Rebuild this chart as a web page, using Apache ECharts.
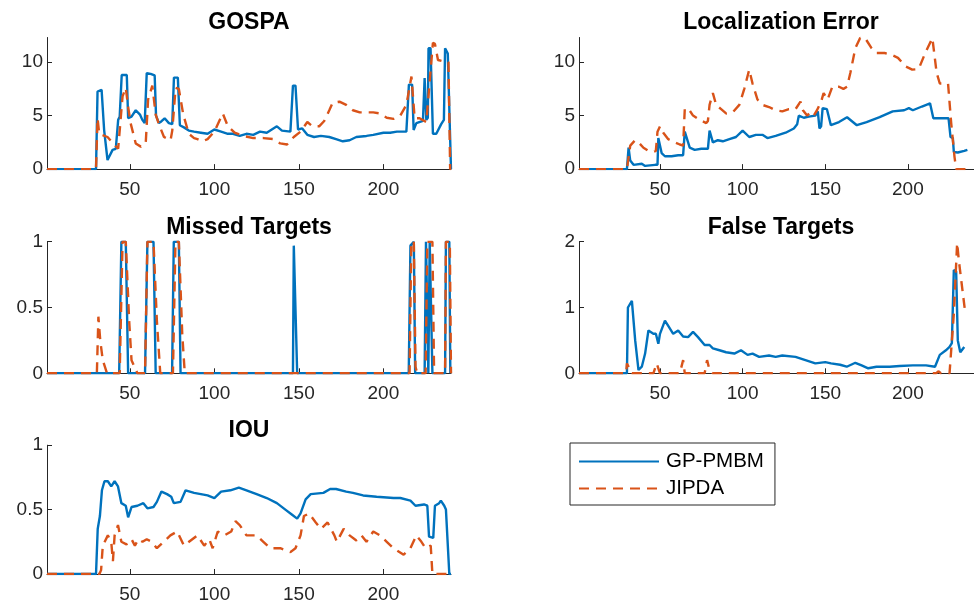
<!DOCTYPE html>
<html>
<head>
<meta charset="utf-8">
<script src="https://cdn.jsdelivr.net/npm/echarts@6/dist/echarts.min.js"></script>
<style>html,body{margin:0;padding:0;background:#fff;}#c{width:974px;height:604px;}</style>
</head>
<body>
<div id="c"></div>
<script>
// ---- tick labels ----
const xTicks = [50, 100, 150, 200];
const yTicksGospa = [0, 5, 10];
const yTicksLoc = [0, 5, 10];
const yTicksMissed = [0, 0.5, 1];
const yTicksFalse = [0, 1, 2];
const yTicksIou = [0, 0.5, 1];
const titles = ['GOSPA', 'Localization Error', 'Missed Targets', 'False Targets', 'IOU'];
const seriesNames = ['GP-PMBM', 'JIPDA'];

// ---- GOSPA ----
const gospaPmbmX = [1,30,30.9,33.3,34.8,36.8,37.8,39.8,41.7,43.1,44,45.2,48.2,49,51,53.5,56,57.4,58.8,60,62.3,64.7,65.5,67.2,68.6,70.6,73.1,75.1,76.1,78.4,79.6,82,84.9,88,92,96,100,104,108,111,115,119,123,127,131,134,137,140,145,146.5,148,149.5,152,155,159,163,168,172,176,180,184,190,194,200,204,208,213.6,215.1,217,217.9,219.5,223.4,224.4,225.4,226.3,226.7,227.9,229.3,231.3,234.2,235.8,236.5,238.1,239,240];
const gospaPmbmY = [0,0,7.25,7.4,3.65,0.85,0.7,1.8,1.9,4.6,4.9,8.8,8.8,4.75,4.9,5.5,5.1,4.6,4.3,8.97,8.9,8.75,5.0,4.3,4.45,4.75,4.3,4.2,8.55,8.55,4.1,3.9,3.6,3.5,3.4,3.3,3.7,3.5,3.3,3.3,3.1,3.3,3.2,3.5,3.4,3.7,4.0,3.6,3.5,7.8,7.8,3.7,3.8,3.2,3.0,3.1,3.0,2.8,2.6,2.7,3.0,3.1,3.2,3.4,3.4,3.5,3.5,7.9,7.9,3.65,4.3,4.5,8.5,4.6,4.8,11.3,11.3,3.3,3.3,4.2,4.6,11.3,10.8,10.8,0];
const gospaJipdaX = [1,30,30.9,31.9,36.8,40.7,43.1,45.7,47.6,49,50.6,53.5,56.5,59.4,60.8,63.3,65.3,67.2,70.2,74.1,75.1,77.1,79,81.6,84.9,88,90,93,96,100,105,108,112,117,123,129,135,139,143,147,151,155,158,162,165,168,170,174,178,182,186,194,198,202,206,210,213.6,216.6,218.5,221.4,225.4,229.3,230.5,232.3,237.2,238.5,239.5,240];
const gospaJipdaY = [0,0,4.75,3.3,3.0,2.3,1.9,6.8,7.6,5.8,4.2,2.4,2.1,2.4,6.5,7.8,5.1,4.2,3.0,2.7,3.6,7.6,7.5,5.1,3.3,2.9,2.8,2.6,2.8,3.5,5.2,4.0,3.4,3.1,2.9,2.9,2.8,2.4,2.3,3.0,3.5,4.4,4.0,4.0,4.5,5.5,6.2,6.3,6.0,5.5,5.3,5.3,5.2,4.8,4.7,5.0,6.0,8.65,4.75,4.75,4.4,11.8,11.7,10.2,10.0,10.0,0,0];

// ---- Localization Error ----
const locPmbmX = [1,30,31,32,34,39,41,47,48.5,49,51,53,57,61,64,65,68,71,75,79,80,82,85,88,92,96,100,104,108,112,115,120,126,131,133,134,137,140,144,145.5,146.5,147.5,148.4,151,153.4,158.3,163.2,169.1,175,182.9,190.8,197.7,200.6,203,208.5,213.4,215.4,220.3,224.6,225.8,227.2,227.8,230.2,234.1,236];
const locPmbmY = [0,0,2.0,0.8,0.4,0.5,0.3,0.4,0.4,2.9,1.5,1.2,1.2,1.3,1.3,3.5,2.0,1.8,1.9,1.9,3.6,2.5,2.7,2.6,2.8,3.0,3.6,3.0,3.2,3.2,2.9,3.1,3.4,3.8,4.2,5.0,4.8,4.9,5.0,5.4,3.8,4.0,5.7,5.6,4.1,4.4,4.85,4.1,4.4,4.85,5.4,5.5,5.7,5.5,5.85,6.15,4.75,4.75,4.75,3.0,2.9,1.6,1.55,1.7,1.8];
const locJipdaX = [1,30,32,35,37,40,43,46,47.5,48.5,50,52,55,59,62,64,65,67,70,74,78,79,80,82,84,87,90,94,98,101,104,106,109,112,116,120,124,128,132,135,136.5,139,141,143,145,147.5,149,151.4,154.3,158.3,161,163.2,165.2,168.2,171.1,174.1,178,180.9,185.9,189.8,194,198.6,202.6,206.5,210.5,214.8,217.4,219.3,224.3,226.2,228.2,229.2,236];
const locJipdaY = [0,0,2.2,2.7,2.5,2.0,1.7,1.6,1.7,3.5,4.0,3.4,2.8,2.5,2.3,2.2,5.6,5.7,5.0,4.6,4.3,4.5,6.0,7.1,6.0,5.6,5.2,5.3,6.0,7.5,9.3,8.0,6.5,6.0,5.8,5.5,5.4,5.6,5.6,6.3,5.5,5.0,5.3,5.0,5.5,6.3,7.1,6.5,7.7,7.7,7.5,7.7,9.0,11.3,12.25,12.25,11.3,10.85,10.85,10.7,10.4,9.6,9.3,9.35,10.85,12.25,9.0,8.0,8.0,4.3,1.15,0,0];

// ---- Missed Targets ----
const missPmbmX = [1,43.7,45,47.6,49,59,60.4,64,65.3,75,76,79,80,146.5,147,148,149,153,153.7,154.5,215,216,218,218.8,224.4,225.2,226,226.6,227.4,228.5,229,236.5,237,239,239.6,240];
const missPmbmY = [0,0,1,1,0,0,1,1,0,0,1,1,0,0,0.97,0.97,0,0,0.01,0,0,0.97,1,0,0,1,1,0,1,1,0,0,1,1,0,0];
const missJipdaX = [1,30.5,31.4,32.5,34,36.5,44,45.7,47.6,49.6,51,54.5,59,60.4,64,66,68,75.5,77,79,81,82.5,85,86,87,215.5,216.5,218,219,220,225,226,229,230,236.5,237,239.3,240];
const missJipdaY = [0,0,0.43,0.25,0.1,0,0,1,1,0.4,0.1,0,0,1,1,0.4,0,0,1,1,0.3,0,0,0.01,0,0,1,1,0.05,0,0,1,1,0,0,1,1,0];

// ---- False Targets ----
const falsePmbmX = [1,30,30.6,33,35,37,39,41,43,46,47.5,49,50,53,55,58,61,64,67,70,73,77,80,82,86,90,95,99,103,106,110,116,120,124,132,138,144,150,153.5,159,163,168.2,172,176,181,189,195,203,211,216.4,219.3,223,225.2,226.6,227.8,229.2,230.2,231.7,232.7,234.1];
const falsePmbmY = [0,0,1.0,1.1,0.5,0.05,0.1,0.3,0.65,0.6,0.6,0.45,0.6,0.8,0.72,0.6,0.65,0.56,0.55,0.63,0.55,0.43,0.43,0.38,0.35,0.32,0.3,0.35,0.28,0.3,0.25,0.27,0.25,0.27,0.25,0.2,0.15,0.17,0.15,0.13,0.1,0.16,0.12,0.076,0.1,0.1,0.11,0.12,0.12,0.1,0.28,0.35,0.4,0.46,1.57,1.55,0.5,0.32,0.32,0.4];
const falseJipdaX = [1,29.5,30,32,33,46,48,50,62,64,65,77,78.5,80,82,217,218.4,220,225.2,227.8,229.8,230.9,234.5];
const falseJipdaY = [0,0,0.15,0.05,0,0,0.15,0,0,0.2,0,0,0.2,0.05,0,0,0.03,0,0,0.91,1.98,1.7,0.96];

// ---- IOU ----
const iouPmbmX = [1,30,31,32.3,33.5,35,37,39,41,43,45,47.6,49,51,54.5,58,60.4,64,66,68.7,72,74.5,76,80,83,88,96,100,104,109.5,114.5,119,125,131,137,142,146,149,151,154,157,164.5,168.5,172,178,182,188,196,206,210,216,219,224,226,227,229.5,230.5,233,234,236,237,239,240];
const iouPmbmY = [0,0,0.35,0.45,0.65,0.72,0.72,0.68,0.72,0.68,0.55,0.53,0.44,0.52,0.53,0.55,0.51,0.52,0.56,0.64,0.62,0.6,0.55,0.56,0.65,0.63,0.61,0.59,0.64,0.65,0.67,0.65,0.62,0.59,0.55,0.5,0.46,0.43,0.47,0.58,0.62,0.63,0.66,0.66,0.64,0.63,0.61,0.6,0.59,0.59,0.57,0.53,0.54,0.53,0.29,0.28,0.53,0.55,0.57,0.53,0.5,0,0];
const iouJipdaX = [1,32,33,34,37,39,40,41,43,45,48,51,53,55,57.5,60,63,66,70,74,78,82,86,90,94,97,99,102,106,110,112.5,115,119,125,129,133,139,145,148,151,153,156,160,163,167,171,172.5,176.5,180,184,187,190,194,198,202,206,212,216,219.5,222.5,225,228,229,240];
const iouJipdaY = [0,0,0.03,0.22,0.3,0.25,0.1,0.3,0.38,0.25,0.23,0.27,0.22,0.27,0.25,0.27,0.25,0.2,0.25,0.3,0.33,0.22,0.26,0.3,0.22,0.27,0.2,0.33,0.3,0.33,0.41,0.38,0.3,0.3,0.25,0.2,0.2,0.17,0.2,0.3,0.45,0.47,0.4,0.35,0.4,0.3,0.25,0.35,0.3,0.26,0.3,0.25,0.33,0.3,0.25,0.2,0.15,0.2,0.3,0.25,0.2,0.22,0,0];

const zip = (xs, ys) => xs.map((x, i) => [x, ys[i]]);

const BLUE = '#0072BD', ORANGE = '#D95319', AX = '#262626';
const FONT = '"Liberation Sans", Arial, Helvetica, sans-serif';

const panels = [
  {left: 47, top: 37.5, yMax: 12.3, yTicks: yTicksGospa, pm: zip(gospaPmbmX, gospaPmbmY), jp: zip(gospaJipdaX, gospaJipdaY)},
  {left: 579, top: 37.5, yMax: 12.3, yTicks: yTicksLoc, pm: zip(locPmbmX, locPmbmY), jp: zip(locJipdaX, locJipdaY)},
  {left: 47, top: 241.7, yMax: 1, yTicks: yTicksMissed, pm: zip(missPmbmX, missPmbmY), jp: zip(missJipdaX, missJipdaY)},
  {left: 579, top: 241.7, yMax: 2, yTicks: yTicksFalse, pm: zip(falsePmbmX, falsePmbmY), jp: zip(falseJipdaX, falseJipdaY)},
  {left: 47, top: 445.2, yMax: 1, yTicks: yTicksIou, pm: zip(iouPmbmX, iouPmbmY), jp: zip(iouJipdaX, iouJipdaY)}
];
const W = 404, H = 131.6;

const grid = [], xAxis = [], yAxis = [], series = [], title = [];
panels.forEach((p, i) => {
  grid.push({left: p.left, top: p.top, width: W, height: H, containLabel: false});
  title.push({
    text: titles[i], left: p.left + W / 2, top: p.top - 26, textAlign: 'center', padding: 0,
    textStyle: {fontFamily: FONT, fontWeight: 'bold', fontSize: 23, color: '#000'}
  });
  xAxis.push({
    type: 'value', gridIndex: i, min: 1, max: 240,
    axisLine: {show: true, lineStyle: {color: AX, width: 1}},
    axisTick: {show: true, inside: true, length: 5, customValues: xTicks, lineStyle: {color: AX}},
    axisLabel: {show: true, customValues: xTicks, margin: 11, fontFamily: FONT, fontSize: 19, color: AX},
    splitLine: {show: false}
  });
  yAxis.push({
    type: 'value', gridIndex: i, min: 0, max: p.yMax,
    axisLine: {show: true, onZero: false, lineStyle: {color: AX, width: 1}},
    axisTick: {show: true, inside: true, length: 5, customValues: p.yTicks, lineStyle: {color: AX}},
    axisLabel: {show: true, customValues: p.yTicks, margin: 4, fontFamily: FONT, fontSize: 19, color: AX},
    splitLine: {show: false}
  });
  series.push({
    name: seriesNames[0], type: 'line', xAxisIndex: i, yAxisIndex: i, data: p.pm,
    showSymbol: false, symbol: 'none', animation: false,
    lineStyle: {color: BLUE, width: 2.4}, itemStyle: {color: BLUE}
  });
  series.push({
    name: seriesNames[1], type: 'line', xAxisIndex: i, yAxisIndex: i, data: p.jp,
    showSymbol: false, symbol: 'none', animation: false,
    lineStyle: {color: ORANGE, width: 2.4, type: [10, 7]}, itemStyle: {color: ORANGE}
  });
});

const chart = echarts.init(document.getElementById('c'), null, {renderer: 'canvas'});
chart.setOption({
  animation: false,
  backgroundColor: '#fff',
  title: title,
  grid: grid,
  xAxis: xAxis,
  yAxis: yAxis,
  series: series,
  legend: {
    data: seriesNames, orient: 'vertical', left: 570, top: 443,
    padding: [8, 11, 6, 8], itemGap: 6, itemWidth: 80, itemHeight: 14,
    borderColor: AX, borderWidth: 1, backgroundColor: '#fff', borderRadius: 0,
    itemStyle: {opacity: 0},
    textStyle: {fontFamily: FONT, fontSize: 20.5, color: '#000', padding: [0, 0, 0, 2]}
  }
});
</script>
</body>
</html>
